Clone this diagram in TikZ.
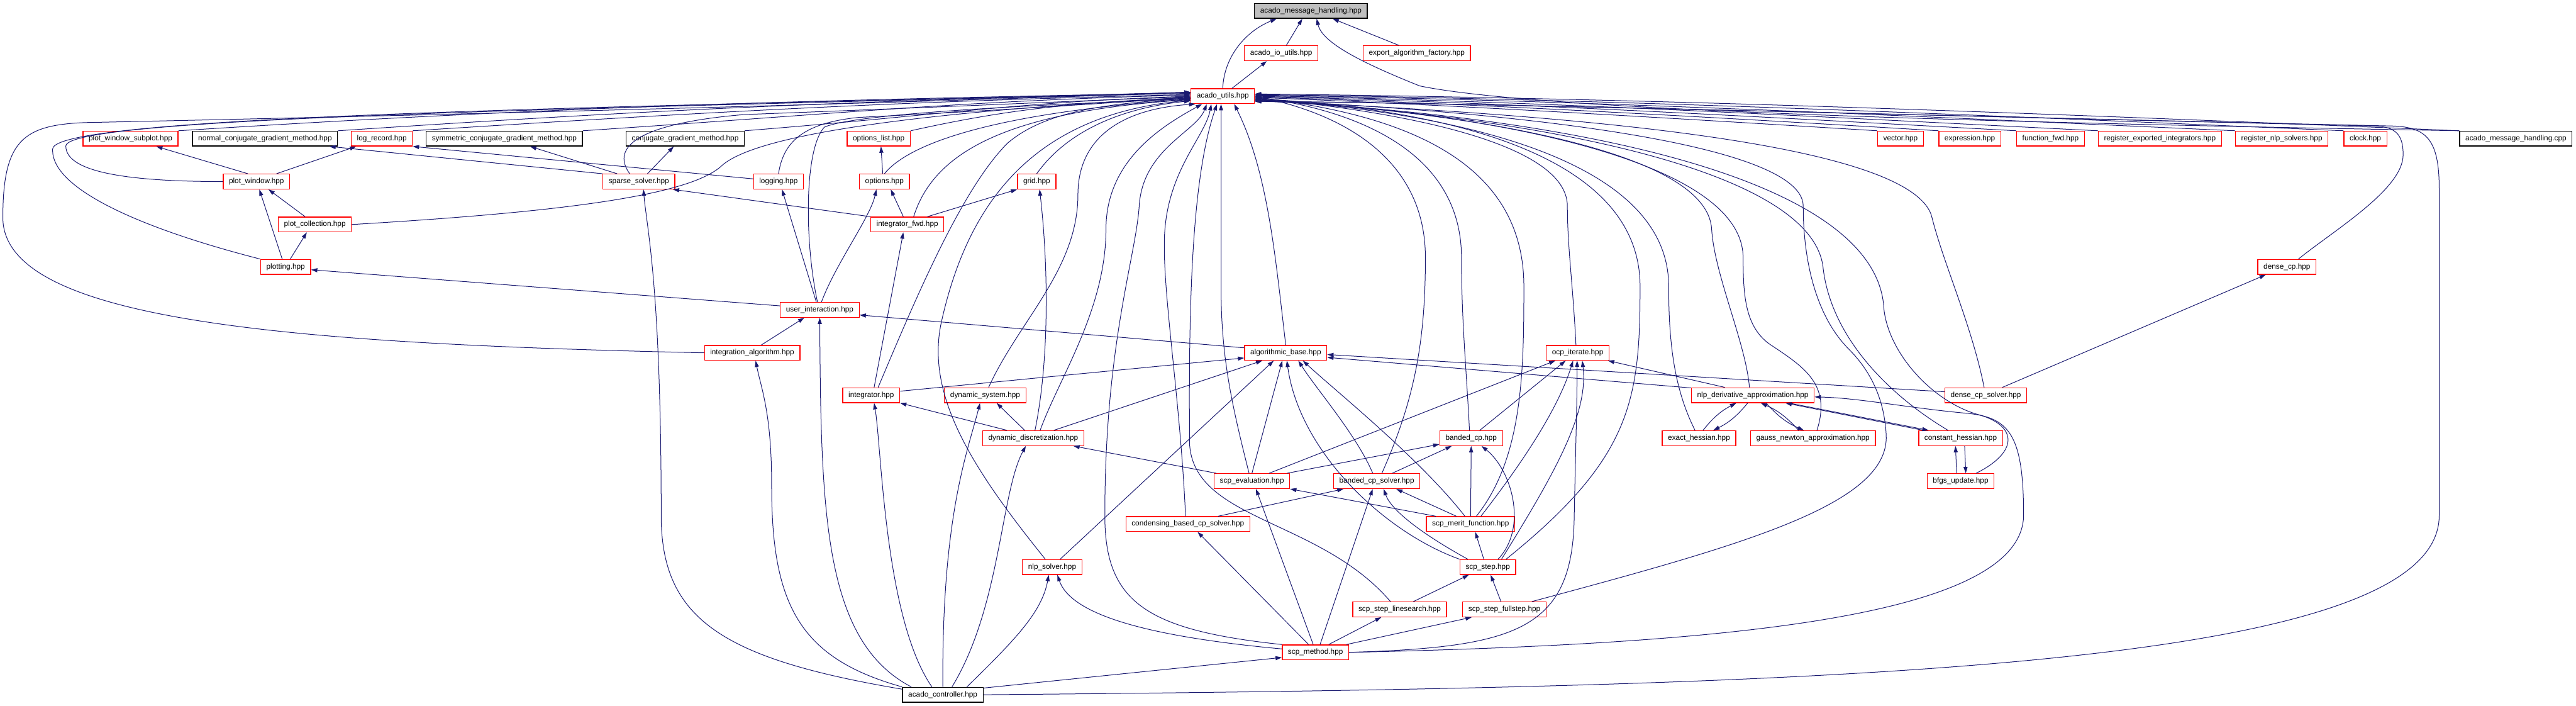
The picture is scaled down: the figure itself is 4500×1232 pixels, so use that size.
\documentclass[tikz,border=0pt]{standalone}
\usepackage{fontspec}
\setmainfont{Liberation Sans}
\usetikzlibrary{arrows.meta}
\definecolor{depblue}{RGB}{25,25,112}
\definecolor{filered}{RGB}{255,0,0}
\definecolor{rootgray}{RGB}{191,191,191}

\begin{document}
\begin{tikzpicture}[x=1pt,y=1pt,
  hdr/.style={draw=filered,line width=1.4pt,fill=white,minimum height=26pt,
              inner xsep=10pt,inner ysep=0pt,font=\fontsize{13}{15}\selectfont},
  srcfile/.style={hdr,draw=black},
  rootfile/.style={hdr,draw=black,fill=rootgray},
  dep/.style={draw=depblue,line width=1.1pt,-{Triangle[length=11pt,width=7pt]}}]
  \useasboundingbox (0,0) rectangle (4500,-1232);
  % header files, top to bottom
  \node[rootfile] (mhhpp) at (2290,-19) {acado\_message\_handling.hpp};
  \node[hdr] (ioutils) at (2238,-93) {acado\_io\_utils.hpp};
  \node[hdr] (expfactory) at (2475,-93) {export\_algorithm\_factory.hpp};
  \node[hdr] (utils) at (2136,-168) {acado\_utils.hpp};
  \node[hdr] (pwsubplot) at (228,-242) {plot\_window\_subplot.hpp};
  \node[srcfile] (normalcg) at (463,-242) {normal\_conjugate\_gradient\_method.hpp};
  \node[hdr] (logrecord) at (667,-242) {log\_record.hpp};
  \node[srcfile] (symcg) at (881,-242) {symmetric\_conjugate\_gradient\_method.hpp};
  \node[srcfile] (conjgrad) at (1197,-242) {conjugate\_gradient\_method.hpp};
  \node[hdr] (optlist) at (1535,-242) {options\_list.hpp};
  \node[hdr] (vectorh) at (3320,-242) {vector.hpp};
  \node[hdr] (expressionh) at (3441,-242) {expression.hpp};
  \node[hdr] (funcfwd) at (3582,-242) {function\_fwd.hpp};
  \node[hdr] (regint) at (3773,-242) {register\_exported\_integrators.hpp};
  \node[hdr] (regnlp) at (3986,-242) {register\_nlp\_solvers.hpp};
  \node[hdr] (clockh) at (4132,-242) {clock.hpp};
  \node[srcfile] (mhcpp) at (4395,-242) {acado\_message\_handling.cpp};
  \node[hdr] (plotwin) at (448,-317) {plot\_window.hpp};
  \node[hdr] (sparse) at (1116,-317) {sparse\_solver.hpp};
  \node[hdr] (logging) at (1360,-317) {logging.hpp};
  \node[hdr] (options) at (1545,-317) {options.hpp};
  \node[hdr] (grid) at (1811,-317) {grid.hpp};
  \node[hdr] (plotcoll) at (550,-392) {plot\_collection.hpp};
  \node[hdr] (intfwd) at (1585,-392) {integrator\_fwd.hpp};
  \node[hdr] (plotting) at (499,-466) {plotting.hpp};
  \node[hdr] (densecp) at (3995,-466) {dense\_cp.hpp};
  \node[hdr] (userint) at (1432,-541) {user\_interaction.hpp};
  \node[hdr] (intalg) at (1314,-616) {integration\_algorithm.hpp};
  \node[hdr] (algbase) at (2246,-616) {algorithmic\_base.hpp};
  \node[hdr] (ocpiter) at (2756,-616) {ocp\_iterate.hpp};
  \node[hdr] (integrator) at (1522,-690) {integrator.hpp};
  \node[hdr] (dynsys) at (1721,-690) {dynamic\_system.hpp};
  \node[hdr] (nlpderiv) at (3062,-690) {nlp\_derivative\_approximation.hpp};
  \node[hdr] (densesolver) at (3469,-690) {dense\_cp\_solver.hpp};
  \node[hdr] (dyndisc) at (1805,-765) {dynamic\_discretization.hpp};
  \node[hdr] (bandedcp) at (2570,-765) {banded\_cp.hpp};
  \node[hdr] (exacthess) at (2968,-765) {exact\_hessian.hpp};
  \node[hdr] (gaussnewton) at (3167,-765) {gauss\_newton\_approximation.hpp};
  \node[hdr] (consthess) at (3425,-765) {constant\_hessian.hpp};
  \node[hdr] (scpeval) at (2187,-840) {scp\_evaluation.hpp};
  \node[hdr] (bandedsolver) at (2405,-840) {banded\_cp\_solver.hpp};
  \node[hdr] (bfgs) at (3425,-840) {bfgs\_update.hpp};
  \node[hdr] (condensing) at (2075,-915) {condensing\_based\_cp\_solver.hpp};
  \node[hdr] (merit) at (2569,-915) {scp\_merit\_function.hpp};
  \node[hdr] (nlpsolver) at (1838,-990) {nlp\_solver.hpp};
  \node[hdr] (scpstep) at (2599,-990) {scp\_step.hpp};
  \node[hdr] (linesearch) at (2445,-1064) {scp\_step\_linesearch.hpp};
  \node[hdr] (fullstep) at (2628,-1064) {scp\_step\_fullstep.hpp};
  \node[hdr] (scpmethod) at (2298,-1139) {scp\_method.hpp};
  \node[srcfile] (controller) at (1647,-1213) {acado\_controller.hpp};

  % into acado_message_handling.hpp
  \draw[dep] (utils.north) .. controls (2138,-100) and (2175,-55) .. ([xshift=-60]mhhpp.south);
  \draw[dep] ([xshift=9]ioutils.north) -- ([xshift=-15]mhhpp.south);
  \draw[dep] ([xshift=-31]expfactory.north) -- ([xshift=38]mhhpp.south);
  \draw[dep] (mhcpp.north west) .. controls (3600,-216) and (2700,-196) .. (2480,-150)
    .. controls (2380,-110) and (2310,-75) .. ([xshift=10]mhhpp.south);
  \draw[dep] ([xshift=16]utils.north) -- ([xshift=-25]ioutils.south);

  % plotting
  \draw[dep] ([xshift=-15]plotwin.north) -- ([xshift=45]pwsubplot.south);
  \draw[dep] ([xshift=35]plotwin.north) -- ([xshift=-45]logrecord.south);
  \draw[dep] ([xshift=-17]plotcoll.north) -- ([xshift=21]plotwin.south);
  \draw[dep] ([xshift=-6]plotting.north) -- ([xshift=5]plotwin.south);
  \draw[dep] ([xshift=8]plotting.north) -- ([xshift=-14]plotcoll.south);
  \draw[dep] ([yshift=7]userint.west) -- ([yshift=-5]plotting.east);

  % solvers, logging, options
  \draw[dep] (sparse.north west) -- ([xshift=-15]normalcg.south east);
  \draw[dep] ([xshift=-38]sparse.north) -- ([xshift=45]symcg.south);
  \draw[dep] ([xshift=15]sparse.north) -- ([xshift=-20]conjgrad.south);
  \draw[dep] ([yshift=-9]logging.north west) -- (logrecord.south east);
  \draw[dep] (intfwd.north west) -- ([xshift=-4]sparse.south east);
  \draw[dep] ([yshift=-4]controller.north west) .. controls (1260,-1150) and (1155,-1080) .. (1155,-900)
    .. controls (1155,-500) and (1130,-400) .. ([xshift=8]sparse.south);
  \draw[dep] ([xshift=-3]options.north) -- ([xshift=4]optlist.south);
  \draw[dep] ([xshift=-7]intfwd.north) -- ([xshift=11]options.south);
  \draw[dep] ([xshift=35]intfwd.north) -- (grid.south west);
  \draw[dep] ([xshift=5]integrator.north) -- ([xshift=-7]intfwd.south);
  \draw[dep] ([xshift=3]dyndisc.north) .. controls (1835,-620) and (1830,-450) .. ([xshift=5]grid.south);
  \draw[dep] ([xshift=3]userint.north) .. controls (1460,-460) and (1520,-380) .. ([xshift=-14]options.south);
  \draw[dep] ([xshift=-6]userint.north) -- ([xshift=6]logging.south);

  % user interaction, integrators
  \draw[dep] ([xshift=16]intalg.north) -- ([xshift=-27]userint.south);
  \draw[dep] ([yshift=-5]algbase.north west) -- ([yshift=-9]userint.east);
  \draw[dep] ([xshift=-55]controller.north) .. controls (1440,-1120) and (1434,-900) .. (userint.south);
  \draw[dep] (controller.north west) .. controls (1400,-1150) and (1348,-1060) .. (1348,-850)
    .. controls (1348,-720) and (1330,-680) .. ([xshift=6]intalg.south);
  \draw[dep] ([yshift=7]integrator.east) -- ([yshift=-9]algbase.west);
  \draw[dep] ([xshift=-46]dyndisc.north) -- (integrator.south east);
  \draw[dep] ([xshift=-15]dyndisc.north) -- ([xshift=20]dynsys.south);
  \draw[dep] ([xshift=36]dyndisc.north) -- ([xshift=-41]algbase.south);
  \draw[dep] ([xshift=-19]controller.north) .. controls (1545,-1080) and (1540,-780) .. ([xshift=5]integrator.south);
  \draw[dep] (controller.north) .. controls (1645,-900) and (1690,-790) .. ([xshift=-9]dynsys.south);
  \draw[dep] ([xshift=16]controller.north) .. controls (1748,-1060) and (1748,-860) .. ([xshift=-13]dyndisc.south);
  \draw[dep] ([xshift=42]controller.north) .. controls (1770,-1120) and (1820,-1070) .. ([xshift=-6]nlpsolver.south);
  \draw[dep] ([yshift=-2]controller.north east) -- ([yshift=-9]scpmethod.west);

  % nlp solver, scp method
  \draw[dep] ([xshift=14]nlpsolver.north) -- ([xshift=-21]algbase.south);
  \draw[dep] ([yshift=6]scpmethod.west) .. controls (1990,-1110) and (1870,-1070) .. ([xshift=9]nlpsolver.south);
  \draw[dep] ([xshift=-12]scpmethod.north) -- ([xshift=17]condensing.south);
  \draw[dep] ([xshift=-4]scpmethod.north) -- ([xshift=7]scpeval.south);
  \draw[dep] ([xshift=8]scpmethod.north) -- ([xshift=-7]bandedsolver.south);
  \draw[dep] ([xshift=23]scpmethod.north) -- ([xshift=-32]linesearch.south);
  \draw[dep] ([xshift=54]scpmethod.north) -- ([xshift=-57]fullstep.south);
  \draw[dep] (scpmethod.east) .. controls (2650,-1130) and (2748,-1100) .. (2750,-900)
    .. controls (2753,-760) and (2755,-700) .. ([xshift=-1]ocpiter.south);
  \draw[dep] (scpmethod.east) .. controls (3000,-1125) and (3532,-1080) .. (3535,-900)
    .. controls (3535,-760) and (3510,-730) .. (3440,-722)
    .. controls (3330,-712) and (3250,-695) .. ([yshift=-3]nlpderiv.east);

  % scp step family
  \draw[dep] ([xshift=53]condensing.north) -- ([xshift=-58]bandedsolver.south);
  \draw[dep] ([xshift=24]linesearch.north) -- ([xshift=-33]scpstep.south);
  \draw[dep] ([xshift=-6]fullstep.north) -- ([xshift=5]scpstep.south);
  \draw[dep] (scpstep.north west) .. controls (2420,-930) and (2270,-790) .. ([xshift=2]algbase.south);
  \draw[dep] ([xshift=-35]scpstep.north) .. controls (2480,-930) and (2430,-890) .. ([xshift=12]bandedsolver.south);
  \draw[dep] ([xshift=-7]scpstep.north) -- ([xshift=8]merit.south);
  \draw[dep] ([xshift=18]scpstep.north) .. controls (2670,-920) and (2640,-820) .. ([xshift=18]bandedcp.south);
  \draw[dep] ([xshift=24]scpstep.north) .. controls (2720,-820) and (2775,-720) .. ([xshift=8]ocpiter.south);
  \draw[dep] ([xshift=-10]merit.north) .. controls (2480,-800) and (2330,-680) .. ([xshift=30]algbase.south);
  \draw[dep] ([xshift=17]merit.north west) -- (scpeval.south east);
  \draw[dep] ([xshift=-25]merit.north) -- ([xshift=34]bandedsolver.south);
  \draw[dep] (merit.north) -- (bandedcp.south);
  \draw[dep] ([xshift=18]merit.north) .. controls (2650,-820) and (2720,-720) .. ([xshift=-8]ocpiter.south);
  \draw[dep] ([xshift=-7]bandedsolver.north) .. controls (2370,-760) and (2300,-680) .. ([xshift=22]algbase.south);
  \draw[dep] ([xshift=27]bandedsolver.north) -- ([xshift=-34]bandedcp.south);
  \draw[dep] ([xshift=-62]scpeval.north) -- ([xshift=70]dyndisc.south);
  \draw[dep] (scpeval.north) -- ([xshift=-6]algbase.south);
  \draw[dep] ([xshift=30]scpeval.north) -- ([xshift=-39]ocpiter.south);
  \draw[dep] ([xshift=61]scpeval.north) -- ([yshift=3]bandedcp.south west);
  \draw[dep] ([xshift=15]bandedcp.north) -- ([xshift=-21]ocpiter.south);

  % hessian approximations
  \draw[dep] ([yshift=-1]nlpderiv.north west) -- ([yshift=-8]algbase.east);
  \draw[dep] ([yshift=6]densesolver.west) -- ([yshift=-3]algbase.east);
  \draw[dep] ([xshift=-49]nlpderiv.north) -- ([xshift=53]ocpiter.south);
  \draw[dep] ([xshift=29]densesolver.north) -- ([xshift=-37]densecp.south);
  \draw[dep] ([xshift=7]exacthess.north) to[bend left=12] ([xshift=-29]nlpderiv.south);
  \draw[dep] ([xshift=-9]nlpderiv.south) to[bend left=12] ([xshift=25]exacthess.north);
  \draw[dep] ([xshift=-25]gaussnewton.north) to[bend right=12] ([xshift=14]nlpderiv.south);
  \draw[dep] ([xshift=23]nlpderiv.south) to[bend right=12] ([xshift=-16]gaussnewton.north);
  \draw[dep] ([xshift=-65]consthess.north) -- ([xshift=57]nlpderiv.south);
  \draw[dep] ([xshift=63]nlpderiv.south) -- ([xshift=-56]consthess.north);
  \draw[dep] ([xshift=-7]bfgs.north) -- ([xshift=-9]consthess.south);
  \draw[dep] ([xshift=7]consthess.south) -- ([xshift=9]bfgs.north);

  % into acado_utils.hpp, from the left
  \draw[dep] (pwsubplot.north east) .. controls +(700,45) and +(-600,-12) .. ([yshift=6]utils.west);
  \draw[dep] (normalcg.north east) .. controls +(600,40) and +(-550,-12) .. ([yshift=5]utils.west);
  \draw[dep] (logrecord.north east) .. controls +(550,35) and +(-500,-12) .. ([yshift=3]utils.west);
  \draw[dep] (symcg.north east) .. controls +(450,30) and +(-400,-10) .. ([yshift=2]utils.west);
  \draw[dep] (conjgrad.north east) .. controls +(350,28) and +(-300,-10) .. (utils.west);
  \draw[dep] (optlist.north east) .. controls +(180,40) and +(-200,-10) .. ([yshift=-2]utils.west);
  \draw[dep] (plotwin.west) .. controls (220,-317) and (115,-300) .. (115,-255)
    .. controls (115,-200) and (1200,-188) .. ([yshift=7]utils.west);
  \draw[dep] (plotting.north west) .. controls (250,-400) and (88,-330) .. (92,-260)
    .. controls (95,-198) and (1200,-186) .. ([yshift=7]utils.west);
  \draw[dep] (intalg.west) .. controls (500,-600) and (5,-560) .. (5,-380)
    .. controls (5,-245) and (40,-218) .. (150,-214)
    .. controls (900,-198) and (1700,-176) .. ([yshift=7]utils.west);
  \draw[dep] (plotcoll.east) .. controls (950,-372) and (1200,-345) .. (1260,-290)
    .. controls (1330,-225) and (1700,-190) .. ([yshift=-2]utils.west);
  \draw[dep] ([xshift=-16]sparse.north) .. controls (1065,-255) and (1120,-215) .. (1300,-200)
    .. controls (1700,-185) and (1900,-175) .. ([yshift=-1]utils.west);
  \draw[dep] (logging.north) .. controls (1368,-250) and (1400,-215) .. (1500,-205)
    .. controls (1800,-190) and (1950,-178) .. ([yshift=-3]utils.west);
  \draw[dep] ([xshift=-4]userint.north) .. controls (1405,-420) and (1405,-260) .. (1440,-222)
    .. controls (1500,-195) and (1900,-180) .. ([yshift=-4]utils.west);
  \draw[dep] (options.north) .. controls (1580,-260) and (1700,-200) .. ([yshift=-5]utils.west);
  \draw[dep] ([xshift=11]intfwd.north) .. controls (1630,-270) and (1750,-195) .. ([yshift=-6]utils.west);
  \draw[dep] (grid.north) .. controls (1835,-270) and (1900,-195) .. ([yshift=-8]utils.west);
  \draw[dep] ([xshift=12]integrator.north) .. controls (1600,-520) and (1680,-330) .. (1760,-250)
    .. controls (1830,-190) and (1950,-180) .. ([yshift=-4]utils.west);
  \draw[dep] ([xshift=-12]nlpsolver.north) .. controls (1700,-820) and (1615,-690) .. (1645,-560)
    .. controls (1690,-360) and (1800,-200) .. ([yshift=-7]utils.west);

  % into acado_utils.hpp, from below
  \draw[dep] ([xshift=6]dynsys.north) .. controls (1780,-560) and (1883,-470) .. (1883,-340)
    .. controls (1883,-240) and (1960,-190) .. ([xshift=-48]utils.south);
  \draw[dep] ([xshift=12]dyndisc.north) .. controls (1850,-660) and (1932,-540) .. (1932,-400)
    .. controls (1932,-280) and (2030,-220) .. ([xshift=-36]utils.south);
  \draw[dep] (scpmethod.north west) .. controls (2000,-1100) and (1930,-1050) .. (1930,-900)
    .. controls (1930,-600) and (1984,-450) .. (1990,-360)
    .. controls (1996,-260) and (2090,-230) .. ([xshift=-28]utils.south);
  \draw[dep] ([xshift=-4]condensing.north) .. controls (2062,-700) and (2032,-520) .. (2034,-420)
    .. controls (2036,-300) and (2105,-240) .. ([xshift=-20]utils.south);
  \draw[dep] ([xshift=-16]linesearch.north) .. controls (2300,-900) and (2070,-910) .. (2078,-760)
    .. controls (2076,-500) and (2085,-300) .. ([xshift=-10]utils.south);
  \draw[dep] ([xshift=-5]scpeval.north) .. controls (2150,-700) and (2133,-620) .. (2133,-500)
    -- ([xshift=-3]utils.south);
  \draw[dep] (algbase.north) .. controls (2228,-450) and (2215,-300) .. ([xshift=20]utils.south);

  % into acado_utils.hpp, from the right
  \draw[dep] ([xshift=9]bandedsolver.north) .. controls (2470,-700) and (2490,-600) .. (2490,-450)
    .. controls (2490,-280) and (2350,-200) .. (utils.east);
  \draw[dep] ([xshift=-3]bandedcp.north) .. controls (2562,-650) and (2553,-560) .. (2553,-450)
    .. controls (2553,-270) and (2380,-195) .. ([yshift=-1]utils.east);
  \draw[dep] ([xshift=10]merit.north) .. controls (2660,-800) and (2662,-650) .. (2662,-500)
    .. controls (2662,-280) and (2450,-200) .. ([yshift=-2]utils.east);
  \draw[dep] ([xshift=-3]ocpiter.north) .. controls (2748,-500) and (2738,-430) .. (2738,-360)
    .. controls (2738,-250) and (2450,-195) .. ([yshift=-3]utils.east);
  \draw[dep] ([xshift=32]scpstep.north) .. controls (2850,-800) and (2865,-700) .. (2865,-500)
    .. controls (2865,-260) and (2500,-190) .. ([yshift=-4]utils.east);
  \draw[dep] ([xshift=-7]exacthess.north) .. controls (2925,-680) and (2915,-600) .. (2915,-500)
    .. controls (2915,-270) and (2520,-195) .. ([yshift=-5]utils.east);
  \draw[dep] ([xshift=-6]nlpderiv.north) .. controls (3050,-600) and (2995,-480) .. (2990,-400)
    .. controls (2982,-260) and (2550,-195) .. ([yshift=-6]utils.east);
  \draw[dep] ([xshift=7]gaussnewton.north) .. controls (3200,-670) and (3150,-640) .. (3090,-600)
    .. controls (3050,-570) and (3045,-520) .. (3045,-450)
    .. controls (3045,-280) and (2600,-195) .. ([yshift=-6]utils.east);
  \draw[dep] ([xshift=48]fullstep.north) .. controls (3050,-950) and (3300,-880) .. (3295,-760)
    .. controls (3292,-700) and (3270,-650) .. (3230,-610)
    .. controls (3170,-550) and (3150,-450) .. (3150,-360)
    .. controls (3150,-240) and (2550,-190) .. ([yshift=-7]utils.east);
  \draw[dep] ([xshift=-22]consthess.north) .. controls (3300,-690) and (3200,-590) .. (3185,-470)
    .. controls (3170,-290) and (2650,-200) .. ([yshift=-7]utils.east);
  \draw[dep] ([xshift=27]bfgs.north) .. controls (3525,-790) and (3525,-745) .. (3460,-725)
    .. controls (3380,-705) and (3300,-620) .. (3291,-540)
    .. controls (3280,-300) and (2700,-200) .. ([yshift=-8]utils.east);
  \draw[dep] ([xshift=-3]densesolver.north) .. controls (3445,-570) and (3395,-460) .. (3375,-380)
    .. controls (3345,-250) and (2750,-200) .. ([yshift=-8]utils.east);
  \draw[dep] ([xshift=20]densecp.north) .. controls (4080,-400) and (4198,-330) .. (4198,-270)
    .. controls (4198,-235) and (4185,-222) .. (4150,-220)
    .. controls (3500,-205) and (2600,-180) .. ([yshift=-9]utils.east);
  \draw[dep] (controller.east) .. controls (3200,-1200) and (4261,-1170) .. (4261,-900)
    -- (4261,-330) .. controls (4261,-245) and (4240,-222) .. (4180,-220)
    .. controls (3500,-205) and (2600,-180) .. ([yshift=-9]utils.east);
  \draw[dep] (vectorh.north west) .. controls +(-360,22) and +(360,-14) .. ([yshift=-2]utils.east);
  \draw[dep] (expressionh.north west) .. controls +(-400,24) and +(400,-13) .. ([yshift=-1]utils.east);
  \draw[dep] (funcfwd.north west) .. controls +(-460,25) and +(460,-12) .. (utils.east);
  \draw[dep] (regint.north west) .. controls +(-520,26) and +(520,-11) .. ([yshift=1]utils.east);
  \draw[dep] (regnlp.north west) .. controls +(-600,27) and +(600,-10) .. ([yshift=2]utils.east);
  \draw[dep] (clockh.north west) .. controls +(-650,28) and +(650,-9) .. ([yshift=3]utils.east);
  \draw[dep] (mhcpp.north west) .. controls +(-720,30) and +(720,-8) .. ([yshift=4]utils.east);
\end{tikzpicture}
\end{document}
